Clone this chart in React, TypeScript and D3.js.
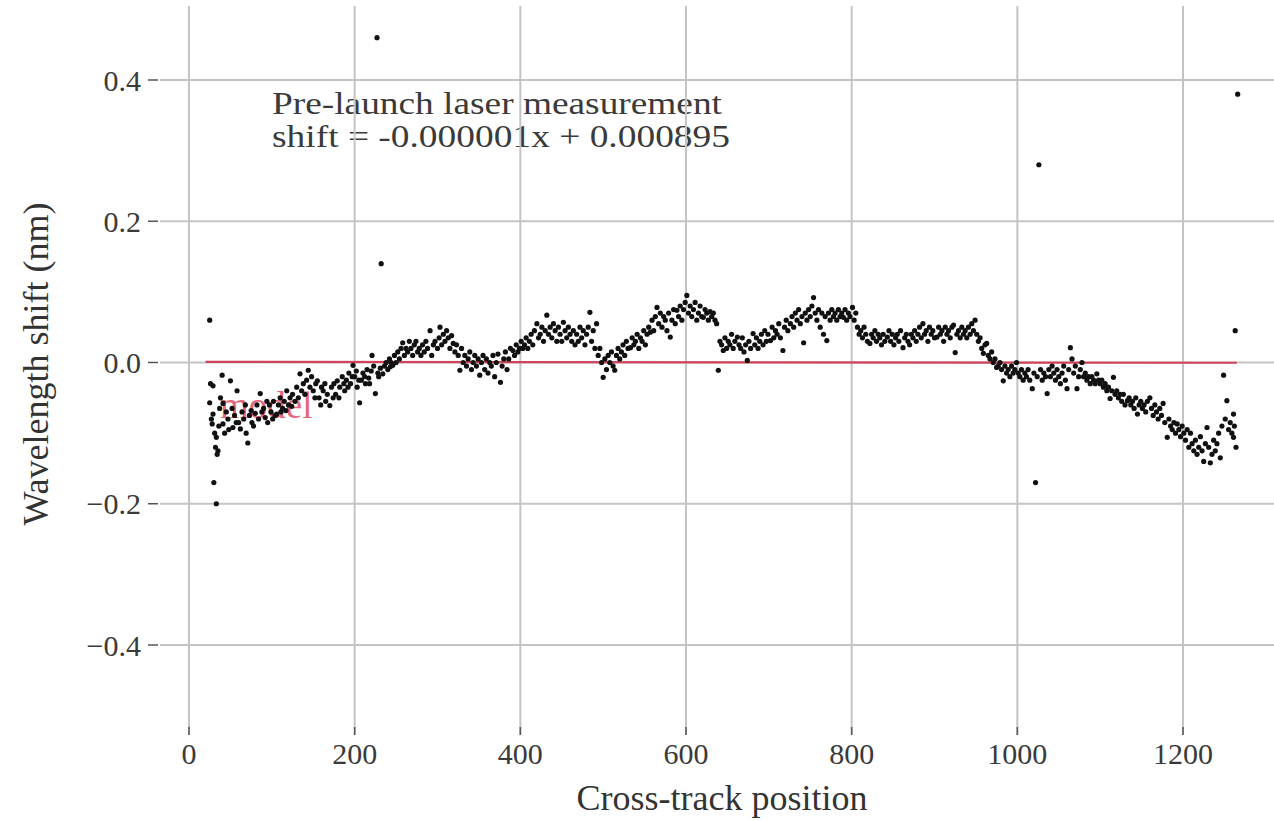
import React from "react";
import * as d3 from "d3";

const xTicks = [0, 200, 400, 600, 800, 1000, 1200];
const yTicks = [0.4, 0.2, 0.0, -0.2, -0.4];
const yTickLabels = ["0.4", "0.2", "0.0", "\u22120.2", "\u22120.4"];

const modelSlope = -0.000001;
const modelIntercept = 0.000895;
const modelRange = [20, 1265];
const annotationLines = ["Pre-launch laser measurement", "shift = -0.000001x + 0.000895"];
const modelLabel = "model";

const segWest: [number, number][] = [
  [25,0.06],[25,-0.057],[26,-0.03],[27,-0.08],[28,-0.087],[29,-0.033],[29,-0.073],[30,-0.17],[31,-0.1],[32,-0.12],[33,-0.2],[33,-0.106],[34,-0.13],[35,-0.125],[36,-0.09],[37,-0.065],[38,-0.05],[40,-0.018],[41,-0.058],[41,-0.087],[43,-0.1],[45,-0.07],[47,-0.08],[48,-0.095],[50,-0.026],[52,-0.065],[53,-0.092],[55,-0.075],[57,-0.085],[58,-0.04],[60,-0.085],[62,-0.094],[64,-0.07],[66,-0.08],[68,-0.06],[69,-0.1],[71,-0.114],[73,-0.075],[75,-0.068],[76,-0.085],[78,-0.09],[80,-0.072],[82,-0.06],[84,-0.08],[86,-0.044],[88,-0.07],[90,-0.065],[92,-0.078],[94,-0.055],[95,-0.085],[97,-0.06],[99,-0.07],[101,-0.08],[102,-0.055],[104,-0.075],[106,-0.073],[108,-0.06],[110,-0.05],[111,-0.07],[113,-0.065],[115,-0.055],[117,-0.068],[118,-0.04],[120,-0.06],[122,-0.05],[124,-0.062],[125,-0.045],[128,-0.055],[130,-0.035],[132,-0.05],[134,-0.016],[136,-0.04],[138,-0.03],[140,-0.045],[142,-0.025],[144,-0.011],[146,-0.035],[148,-0.02],[150,-0.04],[152,-0.05],[153,-0.03],[155,-0.026],[157,-0.05],[159,-0.06],[160,-0.035],[162,-0.04],[164,-0.03],[165,-0.055],[167,-0.045],[170,-0.061],[172,-0.035],[174,-0.05],[175,-0.03],[177,-0.045],[179,-0.026],[181,-0.05],[182,-0.035],[185,-0.02],[187,-0.03],[188,-0.04],[190,-0.025],[192,-0.035],[193,-0.015],[195,-0.03],[197,-0.02],[198,-0.004]
];

const segWestCentral: [number, number][] = [
  [200,-0.02],[202,-0.012],[203,-0.035],[205,-0.025],[206,-0.057],[208,-0.025],[210,-0.015],[212,-0.02],[213,-0.03],[215,-0.01],[217,-0.022],[218,-0.03],[220,-0.012],[221,0.01],[223,-0.005],[225,-0.044],[227,0.46],[228,-0.015],[229,-0.02],[231,-0.008],[232,0.14],[234,-0.016],[236,-0.005],[238,0.0],[240,-0.01],[242,0.005],[243,-0.006],[244,0.0],[246,-0.004],[248,0.01],[250,0.0],[252,0.015],[254,0.005],[256,0.02],[258,0.028],[260,0.01],[262,0.02],[264,0.015],[266,0.03],[268,0.02],[270,0.01],[272,0.025],[274,0.03],[276,0.015],[278,0.02],[280,0.01],[282,0.025],[284,0.015],[286,0.03],[288,0.02],[291,0.045],[293,0.01],[295,0.025],[297,0.03],[300,0.02],[302,0.035],[303,0.05],[305,0.025],[307,0.04],[309,0.03],[311,0.045],[313,0.035],[315,0.02],[317,0.038],[319,0.027],[321,0.015],[323,0.025],[325,0.01],[327,-0.011],[329,0.02],[331,0.0],[333,0.01],[335,-0.005],[337,0.005],[339,0.015],[341,-0.01],[343,0.0],[345,0.01],[347,-0.005],[349,0.005],[351,-0.018],[353,0.0],[355,0.01],[357,-0.01],[359,0.005],[361,-0.015],[363,0.0],[365,-0.005],[367,0.01],[369,-0.02],[371,0.0],[373,0.012],[376,-0.028],[378,-0.005],[380,0.005],[382,0.015],[384,-0.01],[386,0.005],[388,0.02],[391,0.017],[393,0.01],[395,0.025],[397,0.015],[399,0.02]
];

const segCentral: [number, number][] = [
  [401,0.03],[403,0.02],[405,0.025],[407,0.035],[409,0.02],[411,0.03],[413,0.04],[415,0.025],[417,0.045],[420,0.055],[422,0.035],[424,0.04],[426,0.05],[428,0.03],[430,0.045],[432,0.067],[434,0.04],[436,0.05],[438,0.035],[440,0.055],[442,0.045],[444,0.03],[446,0.05],[448,0.04],[450,0.03],[452,0.057],[454,0.045],[456,0.035],[458,0.05],[460,0.04],[462,0.03],[464,0.045],[466,0.025],[468,0.04],[470,0.03],[472,0.05],[474,0.035],[476,0.045],[478,0.025],[480,0.04],[482,0.05],[484,0.071],[486,0.03],[488,0.045],[490,0.02],[492,0.055],[494,0.01],[496,0.02],[498,0.0],[500,-0.021],[502,0.005],[504,-0.01],[506,0.01],[508,0.0],[510,0.015],[512,-0.005],[514,-0.011],[516,0.01],[518,0.02],[520,0.005],[522,0.015],[524,0.025],[526,0.01],[528,0.03],[530,0.02],[533,0.021],[535,0.035],[537,0.025],[539,0.03],[541,0.04],[543,0.02],[545,0.035],[547,0.03],[549,0.045],[551,0.025],[553,0.04],[555,0.05],[557,0.043],[559,0.06],[561,0.045],[563,0.065],[565,0.078],[567,0.055],[569,0.07],[571,0.05],[573,0.065],[575,0.06],[577,0.045],[579,0.07],[581,0.036],[583,0.06],[585,0.075],[587,0.055],[589,0.074],[591,0.065],[593,0.08],[595,0.06],[597,0.075],[599,0.085]
];

const segEastCentral: [number, number][] = [
  [601,0.095],[603,0.07],[605,0.08],[607,0.065],[609,0.075],[611,0.085],[613,0.06],[615,0.07],[617,0.08],[619,0.065],[621,0.064],[623,0.075],[625,0.07],[627,0.06],[629,0.072],[631,0.065],[633,0.07],[635,0.06],[637,0.055],[639,-0.011],[641,0.03],[643,0.025],[645,0.017],[647,0.035],[649,0.02],[651,0.03],[653,0.025],[655,0.04],[657,0.02],[659,0.03],[662,0.036],[664,0.025],[666,0.02],[668,0.035],[670,0.015],[672,0.025],[674,0.003],[676,0.03],[678,0.02],[681,0.041],[683,0.025],[685,0.035],[687,0.02],[689,0.03],[691,0.04],[693,0.025],[695,0.045],[697,0.03],[699,0.04],[702,0.031],[704,0.05],[706,0.035],[708,0.045],[710,0.04],[712,0.055],[714,0.035],[717,0.017],[719,0.05],[721,0.06],[723,0.045],[726,0.055],[728,0.065],[730,0.05],[732,0.07],[734,0.06],[736,0.075],[738,0.055],[740,0.065],[742,0.028],[744,0.07],[746,0.06],[748,0.075],[750,0.065],[752,0.08],[754,0.092],[756,0.07],[758,0.06],[760,0.075],[762,0.05],[764,0.07],[766,0.04],[768,0.065],[770,0.031],[772,0.07],[774,0.06],[776,0.075],[778,0.065],[780,0.07],[782,0.06],[784,0.075],[786,0.065],[788,0.07],[790,0.064],[792,0.075],[794,0.06],[796,0.07],[798,0.065]
];

const segEast: [number, number][] = [
  [801,0.078],[803,0.06],[805,0.07],[807,0.05],[809,0.04],[811,0.045],[813,0.035],[815,0.05],[817,0.04],[819,0.03],[822,0.027],[824,0.04],[826,0.035],[828,0.045],[830,0.03],[832,0.04],[834,0.035],[836,0.025],[838,0.04],[840,0.03],[843,0.036],[845,0.045],[847,0.03],[849,0.04],[851,0.025],[853,0.035],[855,0.04],[857,0.03],[859,0.045],[862,0.021],[864,0.035],[866,0.04],[868,0.03],[870,0.025],[872,0.04],[874,0.035],[876,0.045],[878,0.03],[880,0.04],[882,0.05],[884,0.035],[886,0.055],[888,0.04],[890,0.045],[892,0.03],[894,0.05],[896,0.04],[898,0.045],[900,0.035],[903,0.036],[905,0.05],[907,0.04],[909,0.045],[911,0.03],[913,0.05],[915,0.04],[917,0.045],[919,0.035],[921,0.05],[923,0.053],[925,0.014],[927,0.04],[929,0.045],[931,0.035],[933,0.05],[935,0.04],[937,0.045],[939,0.035],[941,0.05],[943,0.04],[945,0.055],[947,0.045],[949,0.06],[951,0.04],[953,0.03],[955,0.035],[957,0.02],[959,0.013],[961,0.025],[963,0.027],[965,0.01],[967,0.005],[969,0.015],[971,0.0],[973,0.005],[975,-0.007],[977,-0.005],[979,0.0],[981,-0.01],[983,-0.026],[985,-0.005],[987,-0.015],[989,-0.01],[991,-0.02],[993,-0.005],[995,-0.015],[997,-0.01],[999,0.0]
];

const segFarEast: [number, number][] = [
  [1001,-0.015],[1003,-0.02],[1005,-0.01],[1007,-0.025],[1009,-0.015],[1011,-0.02],[1013,-0.01],[1015,-0.025],[1018,-0.037],[1020,-0.015],[1022,-0.17],[1024,-0.02],[1026,0.28],[1028,-0.01],[1030,-0.025],[1032,-0.015],[1034,-0.02],[1036,-0.044],[1038,-0.01],[1040,-0.02],[1042,-0.005],[1044,-0.015],[1046,-0.025],[1048,-0.01],[1050,-0.02],[1052,-0.03],[1054,-0.015],[1056,-0.005],[1058,-0.025],[1060,-0.037],[1062,-0.01],[1064,0.021],[1066,0.005],[1068,-0.015],[1070,-0.005],[1072,-0.037],[1074,-0.02],[1076,-0.01],[1078,0.0],[1080,-0.02],[1082,-0.015],[1084,-0.025],[1086,-0.02],[1088,-0.03],[1090,-0.02],[1092,-0.025],[1094,-0.03],[1096,-0.016],[1098,-0.025],[1100,-0.03],[1102,-0.025],[1104,-0.035],[1106,-0.03],[1108,-0.04],[1110,-0.035],[1112,-0.051],[1114,-0.04],[1116,-0.021],[1118,-0.045],[1120,-0.04],[1122,-0.05],[1124,-0.045],[1126,-0.055],[1128,-0.045],[1130,-0.06],[1133,-0.054],[1135,-0.05],[1137,-0.06],[1139,-0.055],[1141,-0.065],[1143,-0.05],[1145,-0.073],[1147,-0.06],[1149,-0.055],[1151,-0.065],[1153,-0.06],[1155,-0.07],[1157,-0.055],[1160,-0.05],[1162,-0.065],[1164,-0.075],[1166,-0.06],[1168,-0.07],[1170,-0.08],[1172,-0.065],[1174,-0.075],[1176,-0.058],[1178,-0.085],[1181,-0.106],[1183,-0.08],[1185,-0.09],[1187,-0.095],[1189,-0.085],[1191,-0.1],[1193,-0.087],[1195,-0.095],[1197,-0.105],[1199,-0.09],[1201,-0.1],[1203,-0.11],[1205,-0.095],[1207,-0.12],[1209,-0.1],[1211,-0.115],[1213,-0.125],[1215,-0.11],[1217,-0.13],[1219,-0.12],[1221,-0.105],[1223,-0.125],[1225,-0.14],[1227,-0.115],[1229,-0.092],[1231,-0.12],[1233,-0.142],[1235,-0.13],[1237,-0.11],[1239,-0.125],[1241,-0.115],[1243,-0.1],[1245,-0.135],[1247,-0.09],[1249,-0.018],[1251,-0.08],[1253,-0.054],[1255,-0.095],[1257,-0.085],[1259,-0.1],[1261,-0.073],[1261,-0.106],[1262,-0.09],[1263,0.045],[1264,-0.12],[1266,0.38]
];

const W = 1274;
const H = 821;
const FONT = "'Liberation Serif', 'Times New Roman', serif";

export default function App() {
  const x = d3.scaleLinear().domain([0, 1200]).range([189, 1183]);
  const y = d3.scaleLinear().domain([-0.4, 0.4]).range([645, 80]);
  const panelLeft = 160;
  const panelRight = W;
  const panelTop = 6;
  const panelBottom = 735;

  const points = [...segWest, ...segWestCentral, ...segCentral, ...segEastCentral, ...segEast, ...segFarEast];
  const modelLine = d3
    .line<number>()
    .x((d) => x(d))
    .y((d) => y(modelSlope * d + modelIntercept));

  return (
    <svg
      width={W}
      height={H}
      viewBox={`0 0 ${W} ${H}`}
      style={{ position: "absolute", left: 0, top: 0, background: "#fff" }}
      fontFamily={FONT}
    >
      <rect x={0} y={0} width={W} height={H} fill="#fff" />
      {/* annotation */}
      {annotationLines.map((t, i) => (
        <text key={t} x={272} y={114 + i * 33} fontSize={31} fill="#3a3a3a" textLength={i === 0 ? 450 : 458} lengthAdjust="spacingAndGlyphs">
          {t}
        </text>
      ))}
      {/* gridlines */}
      {yTicks.map((t) => (
        <line key={"hy" + t} x1={panelLeft} x2={panelRight} y1={y(t)} y2={y(t)} stroke="#c4c4c4" strokeWidth={2} />
      ))}
      {xTicks.map((t) => (
        <line key={"vx" + t} x1={x(t)} x2={x(t)} y1={panelTop} y2={panelBottom} stroke="#c4c4c4" strokeWidth={2} />
      ))}
      {xTicks.map((t) => (
        <line key={"tx" + t} x1={x(t)} x2={x(t)} y1={panelBottom - 8} y2={panelBottom} stroke="#555" strokeWidth={1.5} />
      ))}
      {yTicks.map((t) => (
        <line key={"ty" + t} x1={148} x2={158} y1={y(t)} y2={y(t)} stroke="#555" strokeWidth={1.5} />
      ))}
      {/* model line */}
      <path d={modelLine(modelRange) || ""} stroke="#d0435a" strokeWidth={2.2} fill="none" />
      <text x={220} y={418} fontSize={37} fill="#e0405a" opacity={0.8}>
        {modelLabel}
      </text>
      {/* points */}
      {points.map((p, i) => (
        <circle key={i} cx={x(p[0])} cy={y(p[1])} r={2.6} fill="#111" />
      ))}
      {/* tick labels */}
      {yTicks.map((t, i) => (
        <text key={"ly" + t} x={141} y={y(t)} dy="0.35em" textAnchor="end" fontSize={30} fill="#3a3a3a">
          {yTickLabels[i]}
        </text>
      ))}
      {xTicks.map((t) => (
        <text key={"lx" + t} x={x(t)} y={764} textAnchor="middle" fontSize={30} fill="#3a3a3a">
          {t}
        </text>
      ))}
      <text x={722} y={810} textAnchor="middle" fontSize={36} fill="#333">
        Cross-track position
      </text>
      <text
        transform={`translate(48, 364) rotate(-90)`}
        textAnchor="middle"
        fontSize={36}
        fill="#333"
      >
        Wavelength shift (nm)
      </text>
    </svg>
  );
}
